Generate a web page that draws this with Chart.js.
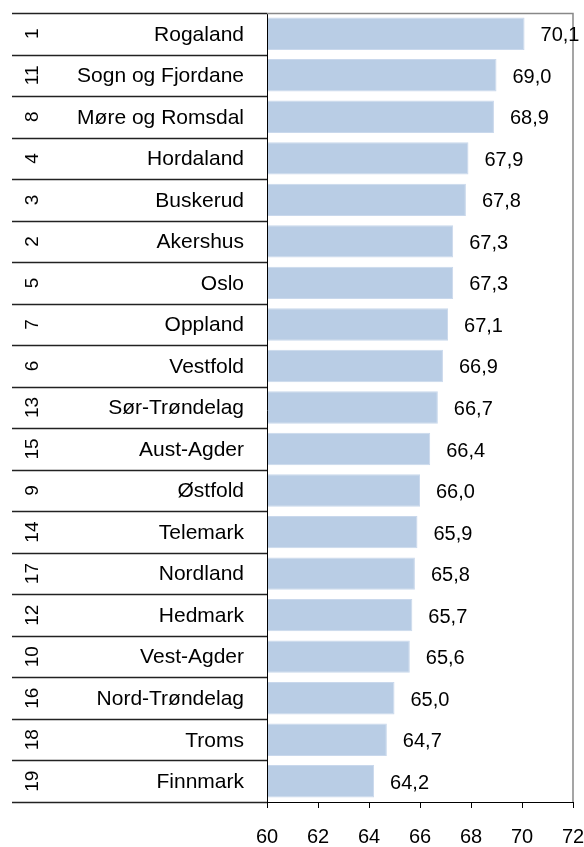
<!DOCTYPE html>
<html>
<head>
<meta charset="utf-8">
<script src="https://cdn.jsdelivr.net/npm/chart.js@4.4.1/dist/chart.umd.min.js"></script>
<style>
  html, body { margin:0; padding:0; background:#fff; }
  #wrap { width:584px; height:847px; position:relative; }
</style>
</head>
<body>
<div id="wrap"><canvas id="chart"></canvas></div>
<script>
const counties = ["Rogaland","Sogn og Fjordane","Møre og Romsdal","Hordaland","Buskerud","Akershus","Oslo","Oppland","Vestfold","Sør-Trøndelag","Aust-Agder","Østfold","Telemark","Nordland","Hedmark","Vest-Agder","Nord-Trøndelag","Troms","Finnmark"];
const ranks = ["1","11","8","4","3","2","5","7","6","13","15","9","14","17","12","10","16","18","19"];
const values = [70.1,69.0,68.9,67.9,67.8,67.3,67.3,67.1,66.9,66.7,66.4,66.0,65.9,65.8,65.7,65.6,65.0,64.7,64.2];
const xMin = 60, xMax = 72, xStep = 2;

const FONT = "'Liberation Sans', Arial, sans-serif";

// left table (rank + name), value labels and frame
const tablePlugin = {
  id: "table",
  afterDraw(chart){
    const ctx = chart.ctx;
    const ys = chart.scales.y, xs = chart.scales.x;
    const area = chart.chartArea;
    const rowH = (area.bottom - area.top) / counties.length;

    ctx.save();
    // row lines
    ctx.strokeStyle = "#222";
    ctx.lineWidth = 1.3;
    for(let i=0; i<=counties.length; i++){
      const y = Math.round(area.top + i*rowH) + 0.5;
      ctx.beginPath();
      ctx.moveTo(12, y);
      ctx.lineTo(area.left, y);
      ctx.stroke();
    }
    // left axis line
    ctx.strokeStyle = "#000";
    ctx.lineWidth = 1;
    ctx.beginPath();
    ctx.moveTo(area.left + 0.5, area.top);
    ctx.lineTo(area.left + 0.5, area.bottom + 6);
    ctx.stroke();

    // gray frame top/right
    ctx.strokeStyle = "#888";
    ctx.lineWidth = 1.5;
    ctx.beginPath();
    ctx.moveTo(area.left, area.top + 0.5);
    ctx.lineTo(area.right, area.top + 0.5);
    ctx.lineTo(area.right, area.bottom);
    ctx.stroke();

    ctx.fillStyle = "#000";
    ctx.textBaseline = "middle";
    counties.forEach((name, i) => {
      const y = ys.getPixelForValue(i);
      ctx.font = "21px " + FONT;
      ctx.textAlign = "right";
      ctx.fillText(name, 244, y + 1);

      ctx.font = "20px " + FONT;
      ctx.textAlign = "left";
      ctx.fillText(values[i].toFixed(1).replace(".", ","), xs.getPixelForValue(values[i]) + 16, y + 2);

      ctx.save();
      ctx.font = "19px " + FONT;
      ctx.translate(32, y);
      ctx.rotate(-Math.PI/2);
      ctx.textAlign = "center";
      ctx.fillText(ranks[i], 0, 1);
      ctx.restore();
    });
    ctx.restore();
  }
};

new Chart(document.getElementById("chart"), {
  type: "bar",
  data: {
    labels: counties,
    datasets: [{
      data: values,
      backgroundColor: "#B9CDE5",
      borderColor: "#C9D8EC",
      borderWidth: 1,
      barPercentage: 0.78,
      categoryPercentage: 1.0
    }]
  },
  options: {
    indexAxis: "y",
    responsive: true,
    maintainAspectRatio: false,
    animation: false,
    layout: { padding: { left: 267, top: 13, right: 11, bottom: 0 } },
    plugins: { legend: { display: false }, tooltip: { enabled: false } },
    scales: {
      y: { display: false },
      x: {
        min: xMin, max: xMax,
        ticks: { stepSize: xStep, color: "#000", font: { family: FONT, size: 20 }, padding: 17 },
        grid: { drawOnChartArea: false, color: "#000", tickLength: 6 },
        border: { color: "#000" },
        afterFit(scale){
          scale.height = 45;
          scale.paddingLeft = 0;
          scale.paddingRight = 0;
        }
      }
    }
  },
  plugins: [tablePlugin]
});
</script>
</body>
</html>
